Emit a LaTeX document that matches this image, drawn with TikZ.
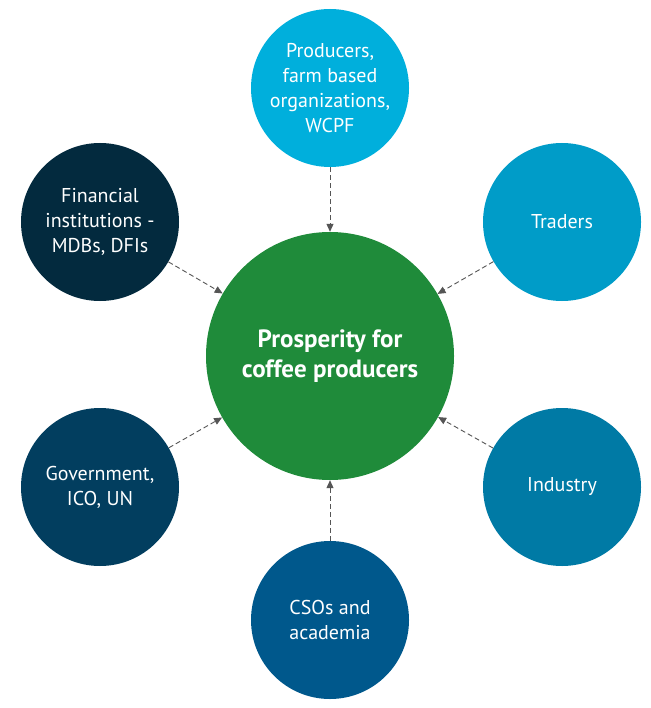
\documentclass[tikz,border=0pt]{standalone}
\usepackage{fontspec}
\setmainfont{PT Sans}
\usetikzlibrary{arrows.meta}
\definecolor{cTop}{RGB}{0,175,220}
\definecolor{cTrad}{RGB}{0,156,200}
\definecolor{cInd}{RGB}{0,122,165}
\definecolor{cCso}{RGB}{0,88,140}
\definecolor{cGov}{RGB}{2,62,95}
\definecolor{cFin}{RGB}{3,42,62}
\definecolor{cGreen}{RGB}{31,139,58}
\definecolor{cArr}{RGB}{85,85,85}
\tikzset{
  outer/.style={circle, minimum size=158pt, inner sep=0pt, text=white, align=center,
    font=\fontsize{20}{25}\selectfont},
  hub/.style={circle, minimum size=248pt, inner sep=0pt, text=white, align=center,
    fill=cGreen, font=\fontsize{25}{30}\selectfont\bfseries},
  link/.style={draw=cArr, line width=0.9pt, dash pattern=on 5pt off 3pt,
    -{Triangle[length=8pt,width=7pt]}, shorten >=0pt}
}
\begin{document}
\begin{tikzpicture}[x=1pt,y=-1pt]
\useasboundingbox (0,0) rectangle (650,708);
\fill[white] (0,0) rectangle (650,708);
\node[hub] (c) at (330,356) {Prosperity for\\coffee producers};
\node[outer, fill=cTop] (prod) at (330,88) {Producers,\\farm based\\organizations,\\WCPF};
\node[outer, fill=cTrad] (trad) at (562,222) {Traders};
\node[outer, fill=cInd] (ind) at (562,487) {Industry};
\node[outer, fill=cCso] (cso) at (330,620) {CSOs and\\academia};
\node[outer, fill=cGov] (gov) at (100,487) {Government,\\ICO, UN};
\node[outer, fill=cFin] (fin) at (100,222) {Financial\\institutions -\\MDBs, DFIs};
\foreach \n in {prod,trad,ind,cso,gov,fin}
  \draw[link] (\n) -- (c);
\end{tikzpicture}
\end{document}
